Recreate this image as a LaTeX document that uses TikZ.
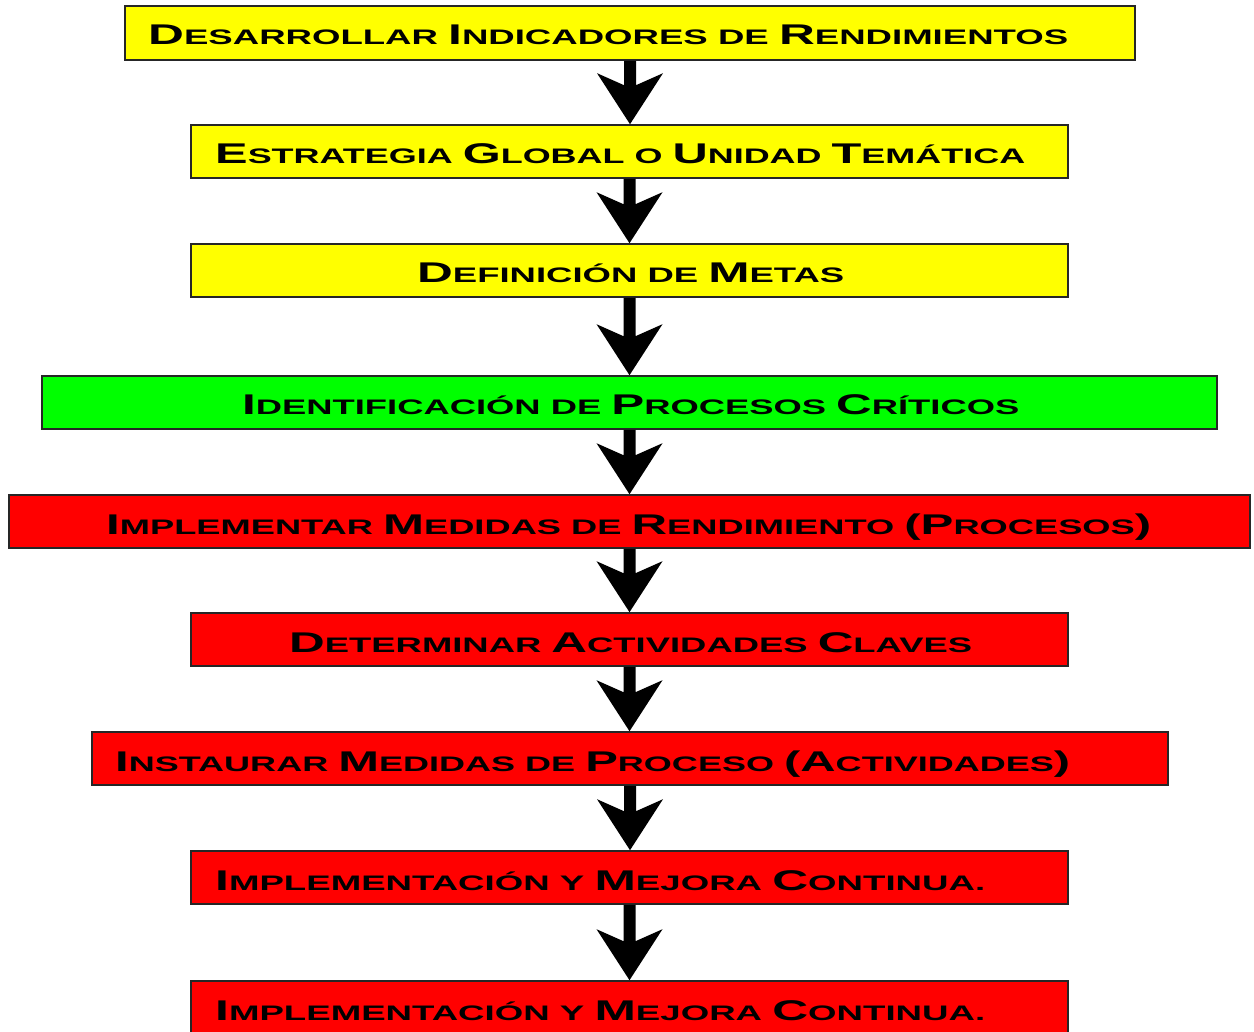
\documentclass[tikz,border=0pt]{standalone}
\usepackage{fontspec}
\usepackage{graphicx}
\setmainfont{Liberation Sans}
\usetikzlibrary{calc}

% small-caps style words: large initial, smaller capitals after it
\newcommand\cw[2]{{\fontsize{28.5}{30}\selectfont #1}{\fontsize{21}{24}\selectfont #2}}
\newcommand\lo[1]{{\fontsize{21}{24}\selectfont #1}}
% a filled block arrow running from one box down to the next
\newcommand\flowarrow[2]{%
  \path let \p1=(#1.south), \p2=(#2.north) in [fill=black]
    (\x1-6pt,\y1) -- (\x1-6pt,\y2+39pt) -- (\x1-33pt,\y2+51pt) -- (\x1,\y2)
    -- (\x1+33pt,\y2+51pt) -- (\x1+6pt,\y2+39pt) -- (\x1+6pt,\y1) -- cycle;}

\definecolor{boxyellow}{RGB}{255,255,0}
\definecolor{boxgreen}{RGB}{0,255,0}
\definecolor{boxred}{RGB}{255,0,0}

\tikzset{
  stagebox/.style={rectangle, draw=black!85, line width=1.6pt, inner sep=0pt, minimum height=53pt},
  txt/.style={anchor=base west, inner sep=0pt, font=\bfseries\fontsize{21}{24}\selectfont, text=black},
}

\begin{document}
\begin{tikzpicture}[x=1pt,y=-1pt]
\useasboundingbox (0,0) rectangle (1254,1032);
\clip (0,0) rectangle (1254,1032);

% boxes
\node[stagebox, fill=boxyellow, minimum width=1010pt, minimum height=54pt] (b1) at (630,33) {};
\node[stagebox, fill=boxyellow, minimum width=877pt] (b2) at (629.5,151.5) {};
\node[stagebox, fill=boxyellow, minimum width=877pt] (b3) at (629.5,270.5) {};
\node[stagebox, fill=boxgreen,  minimum width=1175pt] (b4) at (629.5,402.5) {};
\node[stagebox, fill=boxred,    minimum width=1241pt] (b5) at (629.5,521.5) {};
\node[stagebox, fill=boxred,    minimum width=877pt] (b6) at (629.5,639.5) {};
\node[stagebox, fill=boxred,    minimum width=1076pt] (b7) at (630,758.5) {};
\node[stagebox, fill=boxred,    minimum width=877pt] (b8) at (629.5,877.5) {};
\node[stagebox, fill=boxred,    minimum width=877pt] (b9) at (629.5,1007.5) {};

% labels
\node[txt] (t1) at (148,45) {\resizebox{920pt}{\height}{\cw{D}{ESARROLLAR} \cw{I}{NDICADORES} \lo{DE} \cw{R}{ENDIMIENTOS}}};
\node[txt] (t2) at (215,164) {\resizebox{810pt}{\height}{\cw{E}{STRATEGIA} \cw{G}{LOBAL} \lo{O} \cw{U}{NIDAD} \cw{T}{EMÁTICA}}};
\node[txt] (t3) at (417,283) {\resizebox{427pt}{\height}{\cw{D}{EFINICIÓN} \lo{DE} \cw{M}{ETAS}}};
\node[txt] (t4) at (242,415) {\resizebox{777pt}{\height}{\cw{I}{DENTIFICACIÓN} \lo{DE} \cw{P}{ROCESOS} \cw{C}{RÍTICOS}}};
\node[txt] (t5) at (106,534) {\resizebox{1045pt}{\height}{\cw{I}{MPLEMENTAR} \cw{M}{EDIDAS} \lo{DE} \cw{R}{ENDIMIENTO} \cw{(P}{ROCESOS}\cw{)}{}}};
\node[txt] (t6) at (289,652) {\resizebox{683pt}{\height}{\cw{D}{ETERMINAR} \cw{A}{CTIVIDADES} \cw{C}{LAVES}}};
\node[txt] (t7) at (115,771) {\resizebox{955pt}{\height}{\cw{I}{NSTAURAR} \cw{M}{EDIDAS} \lo{DE} \cw{P}{ROCESO} \cw{(A}{CTIVIDADES}\cw{)}{}}};
\node[txt] (t8) at (215,890) {\resizebox{770pt}{\height}{\cw{I}{MPLEMENTACIÓN} \lo{Y} \cw{M}{EJORA} \cw{C}{ONTINUA}\lo{.}}};
\node[txt] (t9) at (215,1020) {\resizebox{770pt}{\height}{\cw{I}{MPLEMENTACIÓN} \lo{Y} \cw{M}{EJORA} \cw{C}{ONTINUA}\lo{.}}};

% arrows
\flowarrow{b1}{b2}
\flowarrow{b2}{b3}
\flowarrow{b3}{b4}
\flowarrow{b4}{b5}
\flowarrow{b5}{b6}
\flowarrow{b6}{b7}
\flowarrow{b7}{b8}
\flowarrow{b8}{b9}
\end{tikzpicture}
\end{document}
